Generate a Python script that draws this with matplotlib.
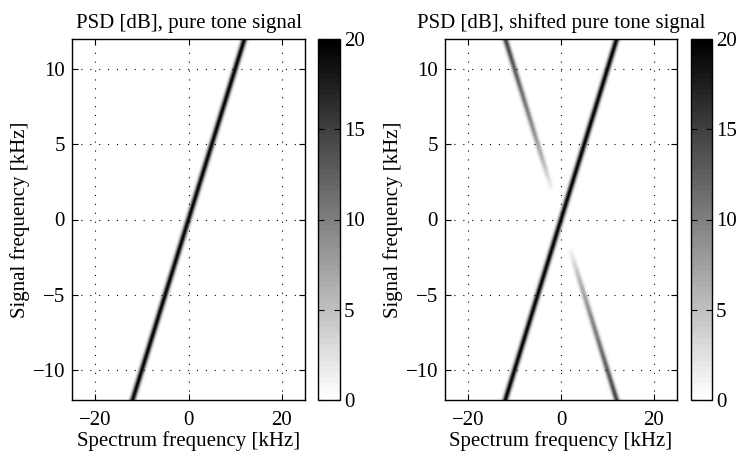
import numpy as np
import matplotlib
matplotlib.use('Agg')
import matplotlib.pyplot as plt

plt.rcParams['font.family'] = ['Liberation Serif', 'DejaVu Serif']
plt.rcParams['font.size'] = 15
plt.rcParams['mathtext.fontset'] = 'stix'

# Axes grids (kHz)
spectrum_freq = np.linspace(-25, 25, 601)
signal_freq = np.linspace(-12, 12, 481)

# Levels (dB)
tone_level = 20.0
line_width_khz = 0.42
mirror_signal = [2, 4, 6, 8, 10, 12]
mirror_level = [1, 6, 9, 11, 13, 15]
mirror_cutoff = 2.0

titles = ['PSD [dB], pure tone signal', 'PSD [dB], shifted pure tone signal']

S, F = np.meshgrid(spectrum_freq, signal_freq)

# pure tone: peak at spectrum freq == signal freq
psd_pure = tone_level * np.exp(-0.5 * ((S - F) / line_width_khz) ** 2)

# shifted tone: same line plus a mirror image at -f that fades towards 0
m_level = np.interp(np.abs(signal_freq), mirror_signal, mirror_level)
m_level[np.abs(signal_freq) < mirror_cutoff] = 0
psd_mirror = m_level[:, None] * np.exp(-0.5 * ((S + F) / line_width_khz) ** 2)
psd_shift = np.maximum(psd_pure, psd_mirror)

cmap = plt.get_cmap('gray_r', 64)

fig = plt.figure(figsize=(7.38, 4.54), dpi=100)
ax_pos = [[72, 305, 318, 340], [445, 677, 691, 712]]
top, bottom = 39, 400
H = 454.0
W = 738.0

for k, psd in enumerate([psd_pure, psd_shift]):
    x0, x1, c0, c1 = ax_pos[k]
    ax = fig.add_axes([x0 / W, (H - bottom) / H, (x1 - x0) / W, (bottom - top) / H])
    im = ax.imshow(psd, extent=[spectrum_freq[0], spectrum_freq[-1], signal_freq[0], signal_freq[-1]],
                   origin='lower', aspect='auto', cmap=cmap, vmin=0, vmax=20,
                   interpolation='bilinear')
    ax.set_xlim(-25, 25)
    ax.set_ylim(-12, 12)
    ax.set_xticks([-20, 0, 20])
    ax.set_yticks([-10, -5, 0, 5, 10])
    ax.grid(True, linestyle=(0, (1, 7)), color='black', linewidth=0.8)
    ax.tick_params(direction='in', top=True, right=True, length=4)
    ax.tick_params(axis='x', pad=8)
    ax.tick_params(axis='y', pad=5)
    for sp in ax.spines.values():
        sp.set_linewidth(1.0)
    ax.set_title(titles[k], fontsize=15, pad=8)
    ax.set_xlabel('Spectrum frequency [kHz]', labelpad=1)
    ax.set_ylabel('Signal frequency [kHz]', labelpad=2)

    cax = fig.add_axes([c0 / W, (H - bottom) / H, (c1 - c0) / W, (bottom - top) / H])
    cb = fig.colorbar(im, cax=cax)
    cb.set_ticks([0, 5, 10, 15, 20])
    cax.tick_params(direction='in', left=True, right=True, length=4, pad=3)
    cb.outline.set_linewidth(1.0)

plt.savefig('out.png', dpi=100)
plt.close()
